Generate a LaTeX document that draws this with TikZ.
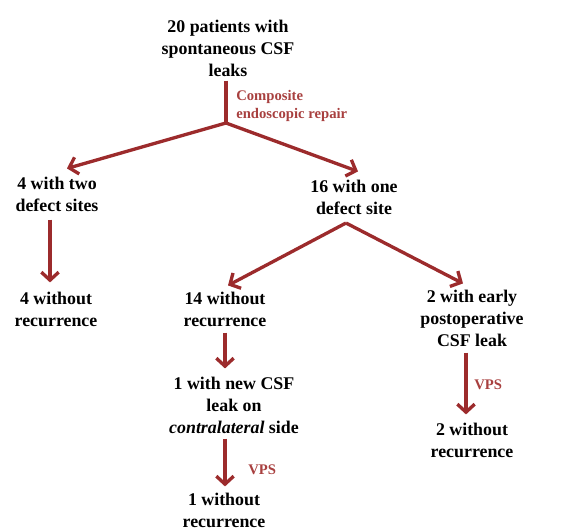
\documentclass[tikz,border=0pt]{standalone}
\usepackage{fontspec}
\setmainfont{Liberation Serif}
\usetikzlibrary{arrows.meta,calc}
\definecolor{arrred}{HTML}{9C2B2C}
\definecolor{txtred}{HTML}{A8403F}
\begin{document}
\begin{tikzpicture}[x=0.75pt,y=-0.75pt,
  lbl/.style={font=\bfseries\fontsize{13.4}{16.5}\selectfont, align=center, inner sep=0pt, text=black},
  redlbl/.style={font=\bfseries\fontsize{11}{14}\selectfont, align=left, inner sep=0pt, text=txtred},
  conn/.style={draw=arrred, line width=2.5pt},
  arr/.style={conn, -{Straight Barb[length=6pt,width=13pt,line width=2.5pt]}}]
\useasboundingbox (0,0) rectangle (561,529);
% nodes
\node[lbl] (top) at (228,48) {20 patients with\\spontaneous CSF\\leaks};
\node[lbl] (two) at (57,194) {4 with two\\defect sites};
\node[lbl] (one) at (354,197) {16 with one\\defect site};
\node[lbl] (fourw) at (56,309) {4 without\\recurrence};
\node[lbl] (fourteen) at (225,309) {14 without\\recurrence};
\node[lbl] (early) at (472,318) {2 with early\\postoperative\\CSF leak};
\node[lbl] (newleak) at (234,405) {1 with new CSF\\leak on\\\textit{contralateral} side};
\node[lbl] (onew) at (224,510) {1 without\\recurrence};
\node[lbl] (twow) at (472,440) {2 without\\recurrence};
% labels
\node[redlbl, anchor=west] (comp) at (236,106) {Composite\\endoscopic repair};
\node[redlbl, anchor=west] (vps1) at (248,470) {VPS};
\node[redlbl, anchor=west] (vps2) at (474,385) {VPS};
% junctions
\coordinate (j1) at (226,123);
\coordinate (j2) at (346,223);
% connectors
\draw[conn] ($(top.south)+(-2,4)$) -- (j1);
\draw[arr] (j1) -- ($(two.north)+(10,-8)$);
\draw[arr] (j1) -- ($(one.north)+(4,-8)$);
\draw[arr] ($(two.south)+(-7,8)$) -- ($(fourw.north)+(-6,-9)$);
\draw[arr] (j2) -- ($(fourteen.north)+(3,-6)$);
\draw[arr] (j2) -- ($(early.north)+(-9,-6)$);
\draw[arr] ($(fourteen.south)+(0,6)$) -- ($(newleak.north)+(-9,-8)$);
\draw[arr] ($(newleak.south)+(-9,5)$) -- ($(onew.north)+(1,-6)$);
\draw[arr] ($(early.south)+(-6,6)$) -- ($(twow.north)+(-6,-8)$);
\end{tikzpicture}
\end{document}
